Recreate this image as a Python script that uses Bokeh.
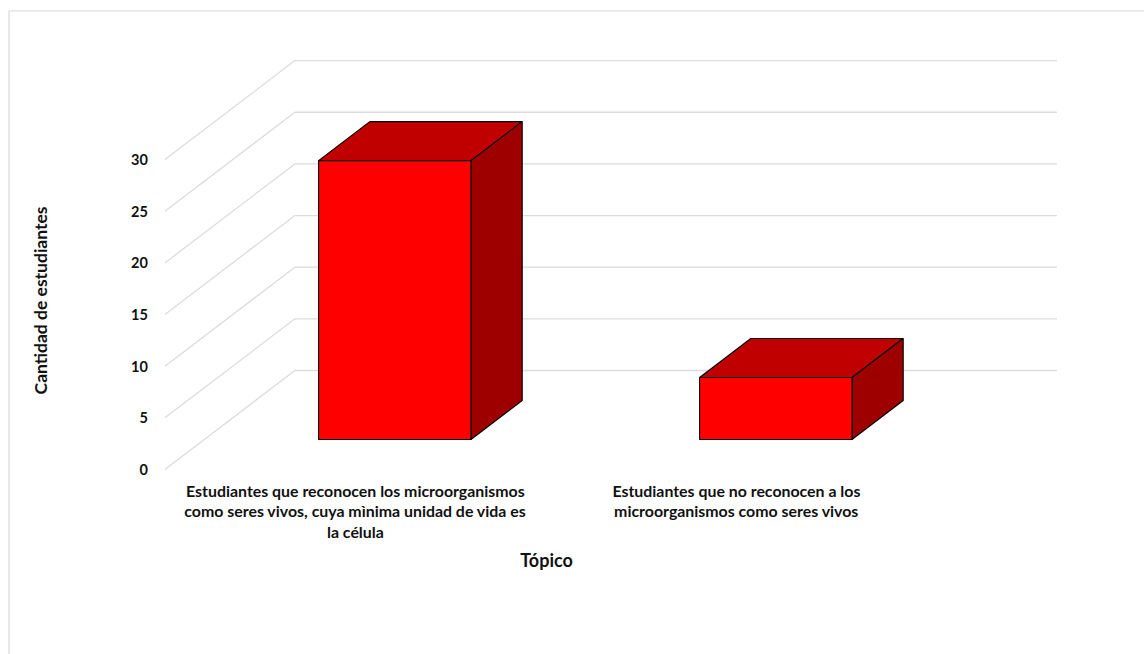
from bokeh.embed import file_html
from bokeh.models import BoxAnnotation, FixedTicker, Label, Range1d
from bokeh.plotting import figure
from bokeh.resources import INLINE
import math

# Survey counts, one value per topic
categories = [
    "Estudiantes que reconocen los microorganismos\ncomo seres vivos, cuya mìnima unidad de vida es\nla célula",
    "Estudiantes que no reconocen a los\nmicroorganismos como seres vivos",
]
counts = [27, 6]
value_ticks = [0, 5, 10, 15, 20, 25, 30]

PAGE_W, PAGE_H = 1144, 654

# Origin of the floor's front edge on the page, and scale of each axis
ORIGIN_X, ORIGIN_Y = 164.4, 469
PX_PER_CATEGORY = 381.0
PX_PER_VALUE = 10.33

# Oblique projection used for the fake 3D floor and walls
DEPTH_X = 130.0 / PX_PER_CATEGORY
DEPTH_Y = 99.0 / PX_PER_VALUE
BAR_WIDTH = 0.4
BAR_DEPTH_FRONT = 0.303
BAR_DEPTH_BACK = 0.697

FONT = "Lato"
INK = "#111111"
GRID = "#dcdcdc"

p = figure(
    width=PAGE_W, height=PAGE_H, min_border=0,
    output_backend="svg", toolbar_location=None,
    x_range=Range1d(-ORIGIN_X / PX_PER_CATEGORY, (PAGE_W - ORIGIN_X) / PX_PER_CATEGORY),
    y_range=Range1d(-(PAGE_H - ORIGIN_Y) / PX_PER_VALUE, ORIGIN_Y / PX_PER_VALUE),
    background_fill_color="white", border_fill_color="white",
)
p.outline_line_color = None
p.grid.visible = False


def project(x, v, z):
    return x + z * DEPTH_X, v + z * DEPTH_Y


# Left wall and back wall rules
floor_end = len(categories)
wall_xs, wall_ys = [], []
for t in value_ticks:
    x0, y0 = project(0, t, 0)
    x1, y1 = project(0, t, 1)
    x2, y2 = project(floor_end, t, 1)
    wall_xs.append([x0, x1, x2])
    wall_ys.append([y0, y1, y2])
p.multi_line(wall_xs, wall_ys, line_color=GRID, line_width=1.3)

# Prisms: top face, side face, front face
for i, c in enumerate(counts):
    left = i + 0.5 - BAR_WIDTH / 2
    right = i + 0.5 + BAR_WIDTH / 2
    top = [project(left, c, BAR_DEPTH_FRONT), project(right, c, BAR_DEPTH_FRONT),
           project(right, c, BAR_DEPTH_BACK), project(left, c, BAR_DEPTH_BACK)]
    side = [project(right, 0, BAR_DEPTH_FRONT), project(right, c, BAR_DEPTH_FRONT),
            project(right, c, BAR_DEPTH_BACK), project(right, 0, BAR_DEPTH_BACK)]
    front = [project(left, 0, BAR_DEPTH_FRONT), project(right, 0, BAR_DEPTH_FRONT),
             project(right, c, BAR_DEPTH_FRONT), project(left, c, BAR_DEPTH_FRONT)]
    for face, fill in ((top, "#c00000"), (side, "#9e0000"), (front, "#ff0000")):
        p.patch([q[0] for q in face], [q[1] for q in face],
                fill_color=fill, line_color="#000000", line_width=1.1)

# Value axis: labels only, pinned to the front corner of the floor
p.yaxis.fixed_location = 0
p.yaxis.ticker = FixedTicker(ticks=value_ticks)
p.yaxis.axis_line_color = None
p.yaxis.major_tick_line_color = None
p.yaxis.minor_tick_line_color = None
p.yaxis.major_label_text_font = FONT
p.yaxis.major_label_text_font_style = "bold"
p.yaxis.major_label_text_font_size = "14.5px"
p.yaxis.major_label_text_color = INK
p.yaxis.major_label_standoff = 11

# Category axis: wrapped labels under each slot
p.xaxis.fixed_location = 0
p.xaxis.ticker = FixedTicker(ticks=[i + 0.5 for i in range(len(categories))])
p.xaxis.major_label_overrides = {i + 0.5: c for i, c in enumerate(categories)}
p.xaxis.axis_line_color = None
p.xaxis.major_tick_line_color = None
p.xaxis.minor_tick_line_color = None
p.xaxis.major_label_text_font = FONT
p.xaxis.major_label_text_font_style = "bold"
p.xaxis.major_label_text_font_size = "15.9px"
p.xaxis.major_label_text_color = INK
p.xaxis.major_label_text_line_height = 1.085
p.xaxis.major_label_standoff = 5
p.xaxis.major_label_orientation = "horizontal"

# Axis titles
p.add_layout(Label(x=546, y=559, x_units="canvas", y_units="canvas", text="Tópico",
                   text_font=FONT, text_font_style="bold", text_font_size="18px",
                   text_color=INK, text_align="center", text_baseline="middle"))
p.add_layout(Label(x=40, y=300, x_units="canvas", y_units="canvas",
                   text="Cantidad de estudiantes",
                   angle=math.pi / 2, text_font=FONT, text_font_style="bold", text_font_size="17.5px",
                   text_color=INK, text_align="center", text_baseline="middle"))

# Chart area border, open towards the page edges
p.add_layout(BoxAnnotation(left=8.5, right=1170, top=10.5, bottom=680,
                           left_units="canvas", right_units="canvas",
                           top_units="canvas", bottom_units="canvas",
                           fill_color=None, line_color="#d9d9d9", line_alpha=1.0, line_width=1.2))

open("out.html", "w").write(file_html(p, INLINE))
